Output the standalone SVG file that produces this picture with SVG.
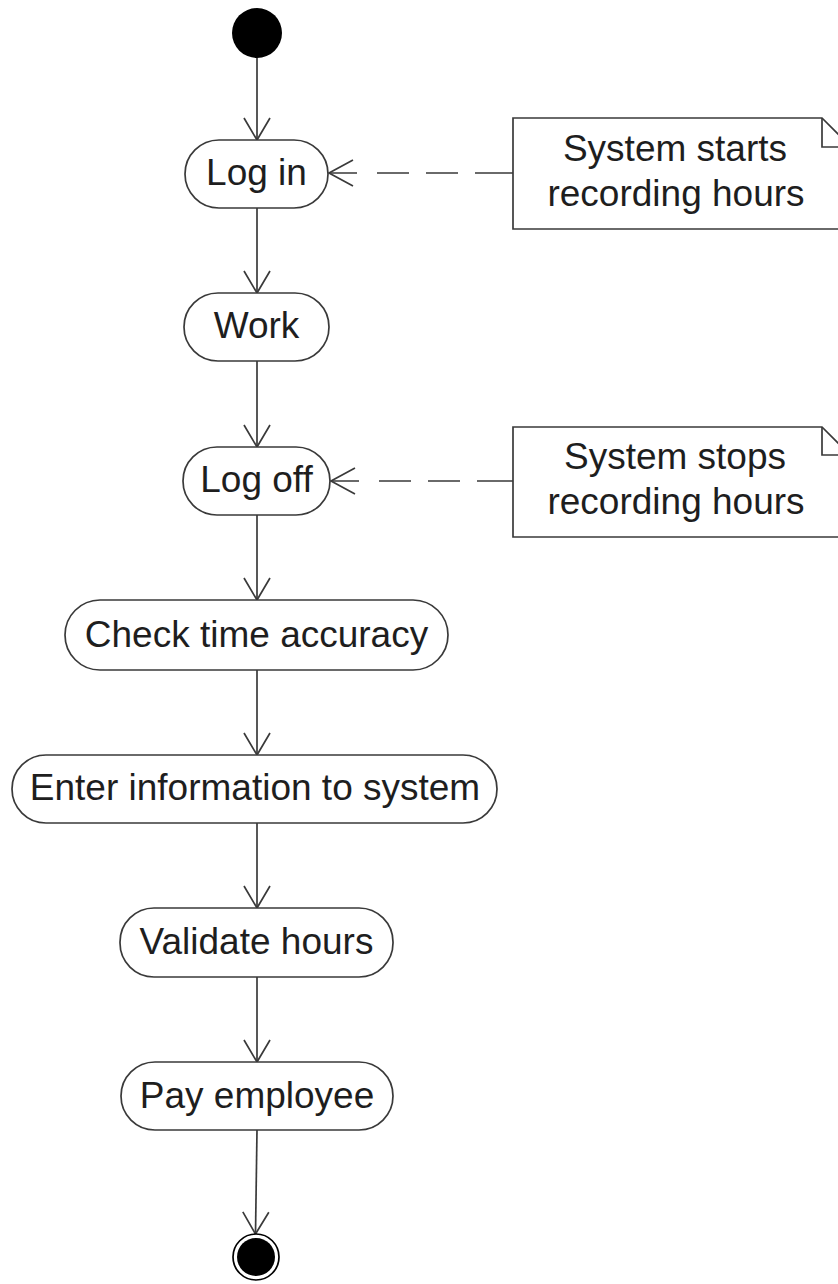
<svg xmlns="http://www.w3.org/2000/svg" width="838" height="1284" viewBox="0 0 838 1284">
<defs>
<style>
.node{fill:#fff;stroke:#3a3a3a;stroke-width:1.7}
.note{fill:#fff;stroke:#3a3a3a;stroke-width:1.7}
.lbl{font-family:"Liberation Sans",Arial,sans-serif;font-size:37px;fill:#1e1e1e;text-anchor:middle}
.flow{fill:none;stroke:#3a3a3a;stroke-width:1.7;marker-end:url(#arr)}
.dash{fill:none;stroke:#3a3a3a;stroke-width:1.7;stroke-dasharray:28 20 32 17 32 17 60}
.head{fill:none;stroke:#3a3a3a;stroke-width:1.7}
</style>
<marker id="arr" markerUnits="userSpaceOnUse" markerWidth="30" markerHeight="30" viewBox="-25 -15 30 30" refX="0" refY="0" orient="auto" overflow="visible">
<path d="M-22,-13 L0,0 L-22,13" fill="none" stroke="#3a3a3a" stroke-width="1.7"/>
</marker>
</defs>
<rect width="838" height="1284" fill="#fff"/>
<g id="connectors">
<path class="flow" d="M257,58 V140"/>
<path class="flow" d="M257,208 V293"/>
<path class="flow" d="M257,361 V447"/>
<path class="flow" d="M257,515 V600"/>
<path class="flow" d="M257,670 V755"/>
<path class="flow" d="M257,823 V908"/>
<path class="flow" d="M257,977 V1062"/>
<path class="flow" d="M257,1130 L255.5,1234"/>
<path class="dash" d="M329,173 H513"/>
<path class="head" d="M353,160 L329,173 L353,186"/>
<path class="dash" d="M331,481 H513"/>
<path class="head" d="M355,468 L331,481 L355,494"/>
</g>
<g id="start"><circle cx="257" cy="33" r="25" fill="#000"/></g>
<g id="login"><rect class="node" x="185" y="140" width="143" height="68" rx="34"/><text class="lbl" x="256.5" y="185">Log in</text></g>
<g id="work"><rect class="node" x="184" y="293" width="145" height="68" rx="34"/><text class="lbl" x="256.5" y="338">Work</text></g>
<g id="logoff"><rect class="node" x="183" y="447" width="147" height="68" rx="34"/><text class="lbl" x="256.5" y="492">Log off</text></g>
<g id="check"><rect class="node" x="65" y="600" width="383" height="70" rx="35"/><text class="lbl" x="256.5" y="647">Check time accuracy</text></g>
<g id="enter"><rect class="node" x="12" y="755" width="485" height="68" rx="34"/><text class="lbl" x="255" y="800">Enter information to system</text></g>
<g id="validate"><rect class="node" x="120" y="908" width="273" height="69" rx="34"/><text class="lbl" x="256.5" y="954">Validate hours</text></g>
<g id="pay"><rect class="node" x="121" y="1062" width="272" height="68" rx="34"/><text class="lbl" x="257" y="1108">Pay employee</text></g>
<g id="end"><circle cx="256" cy="1257" r="23" fill="#fff" stroke="#000" stroke-width="1.7"/><circle cx="256" cy="1257" r="19" fill="#000"/></g>
<g id="note1">
<path class="note" d="M513,118 H822 L852,148 V229 H513 Z"/>
<path class="head" d="M822,118 V147 H852"/>
<text class="lbl" x="675" y="161">System starts</text>
<text class="lbl" x="676" y="206">recording hours</text>
</g>
<g id="note2">
<path class="note" d="M513,427 H822 L852,457 V537 H513 Z"/>
<path class="head" d="M822,427 V455 H852"/>
<text class="lbl" x="675" y="469">System stops</text>
<text class="lbl" x="676" y="514">recording hours</text>
</g>
</svg>
